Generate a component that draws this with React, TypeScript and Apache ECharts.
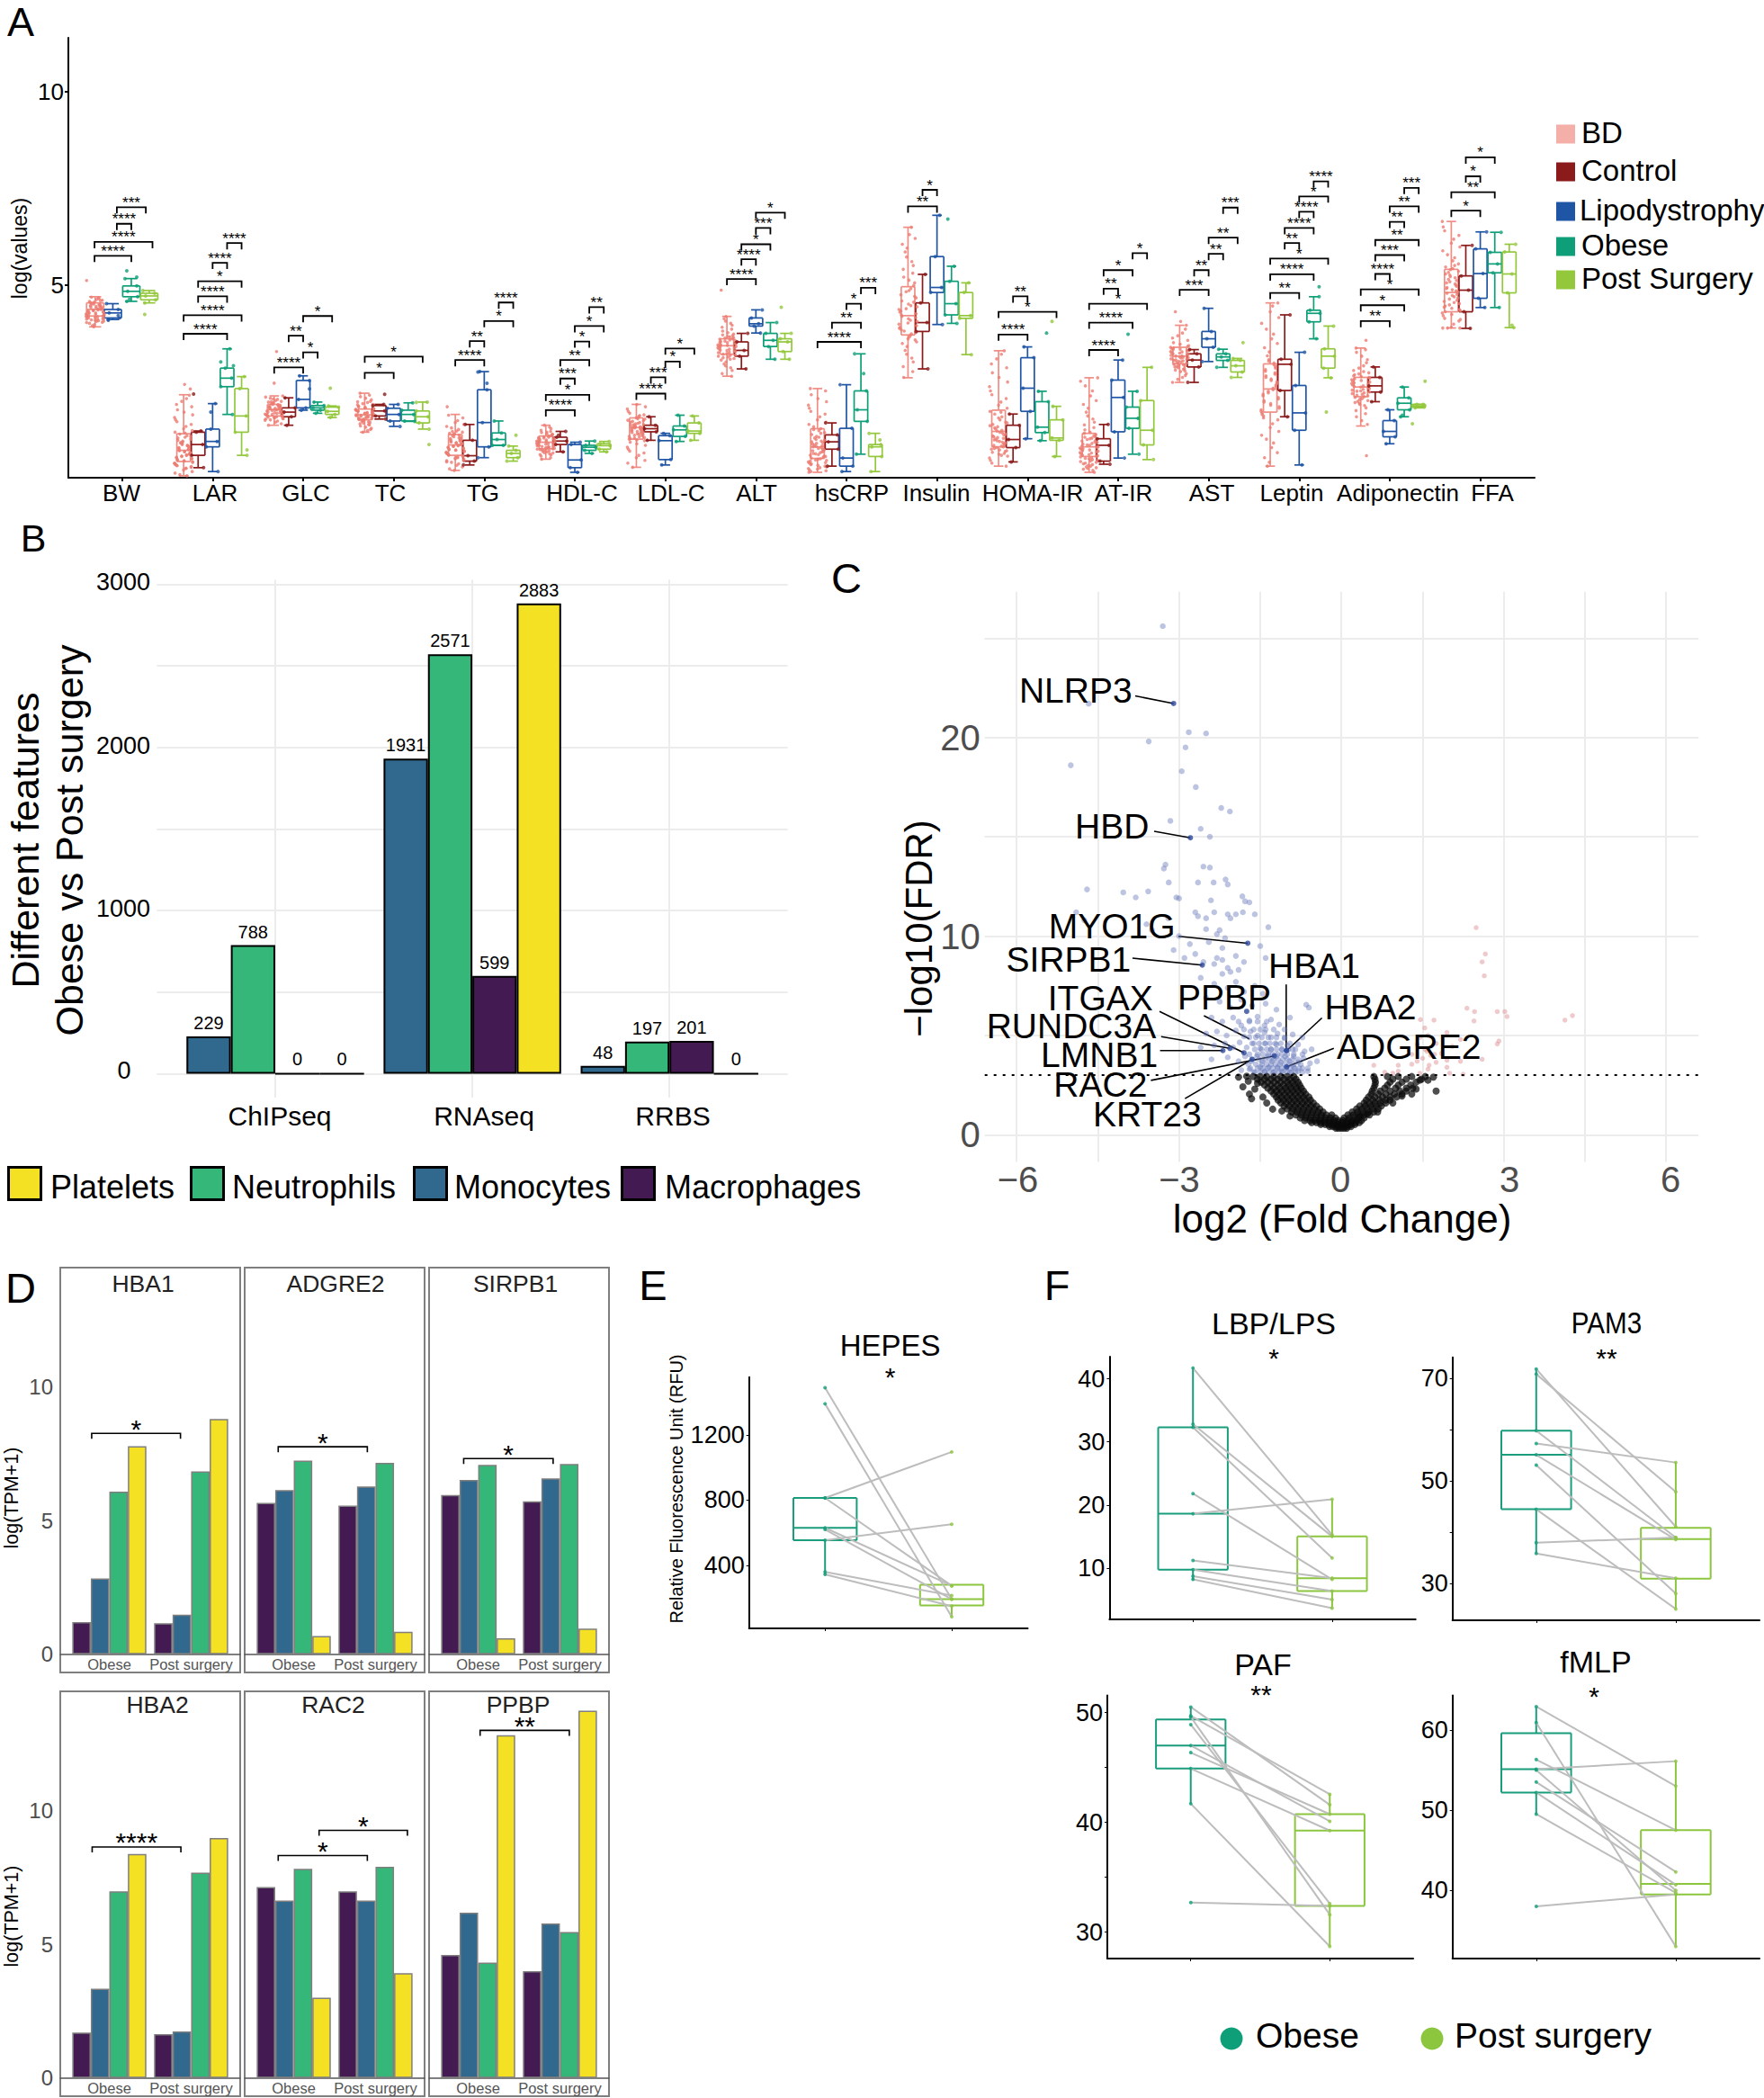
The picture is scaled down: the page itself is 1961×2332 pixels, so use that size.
import React, { useEffect, useRef } from "react";
import * as echarts from "echarts";

const FONT = '"Liberation Sans", Arial, sans-serif';

// ---------- Panel A ----------
const measures = ["BW","LAR","GLC","TC","TG","HDL-C","LDL-C","ALT","hsCRP","Insulin","HOMA-IR","AT-IR","AST","Leptin","Adiponectin","FFA"];
const measureLabelX = [135,239,340,434,537,647,746,841,947,1041,1148,1249,1347,1436,1554,1659];
const groupNames = ["BD","Control","Lipodystrophy","Obese","Post Surgery"];
const groupColors = ["#F08D84","#8B1A1A","#1F55A5","#0E9F78","#93C83C"];
// [min, q1, median, q3, max] per measure
const boxBD = [[3.91,4.19,4.36,4.53,4.69],[.05,.42,.71,1.14,2.15],[1.36,1.6,1.77,1.9,2.12],[1.18,1.5,1.63,1.78,2.19],[.19,.58,.85,1.12,1.64],[.48,.75,.92,1.08,1.36],[.27,1,1.3,1.55,1.9],[2.63,3.2,3.42,3.6,4.18],[.14,.5,.8,1.27,2.31],[2.59,3.7,4.2,4.95,6.49],[.3,.8,1.2,1.75,3.29],[.14,.55,.8,1.15,2.59],[2.47,2.95,3.15,3.38,3.95],[.3,1.7,2.3,2.95,4.53],[1.34,2.1,2.35,2.6,3.36],[3.88,4.3,4.8,5.4,6.64]];
const boxControl = [null,[.26,.58,.86,1.18,1.21],[1.36,1.58,1.7,1.81,2.07],[1.52,1.6,1.73,1.87,1.9],[.33,.43,.57,.97,1.38],[.67,.86,.95,1.05,1.2],[.97,1.19,1.27,1.36,1.58],[2.82,3.15,3.3,3.52,3.74],[.3,.74,.93,1.11,1.42],[2.82,3.79,4.02,4.53,5.27],[.41,.78,.99,1.36,1.65],[.35,.43,.84,1.01,1.38],[2.47,2.87,3.05,3.21,3.32],[1.58,2.26,2.94,3.07,4.22],[1.97,2.22,2.38,2.6,2.87],[3.87,4.3,4.86,5.23,6.02]];
const boxLipo = [[4.1,4.14,4.27,4.36,4.51],[.16,.8,.94,1.26,1.92],[1.75,1.81,2.03,2.52,2.64],[1.33,1.47,1.64,1.8,1.9],[.52,.8,1.43,2.28,2.75],[.14,.26,.46,.86,.92],[.33,.47,.96,1.09,1.15],[3.75,3.93,3.99,4.14,4.35],[.16,.3,.51,1.28,2.41],[3.97,4.8,4.93,5.73,6.8],[1.01,1.72,2.32,3.11,3.39],[.51,1.19,2.08,2.53,3.05],[3.01,3.38,3.6,3.79,4.39],[.33,1.23,1.68,2.39,3.25],[.88,1.06,1.2,1.48,1.76],[4.41,4.65,5.29,5.93,6.37]];
const boxObese = [[4.57,4.69,4.83,4.97,5.16],[1.64,2.36,2.58,2.84,3.34],[1.67,1.75,1.81,1.87,1.96],[1.46,1.47,1.64,1.75,1.94],[.84,.84,.99,1.16,1.47],[.63,.71,.79,.84,.95],[.94,1.07,1.24,1.34,1.62],[3.07,3.4,3.56,3.74,4.02],[.61,1.46,1.76,2.25,3.21],[4,4.22,4.51,5.09,5.48],[.96,1.17,1.31,1.97,2.24],[.61,1.28,1.54,1.83,2.24],[2.86,3.04,3.13,3.21,3.33],[3.6,4.04,4.26,4.34,4.69],[1.58,1.76,1.93,2.07,2.35],[4.41,5.31,5.54,5.84,6.36]];
const boxPost = [[4.53,4.61,4.71,4.78,4.85],[.58,1.18,1.6,2.31,2.62],[1.56,1.64,1.72,1.83,1.86],[1.26,1.42,1.58,1.73,1.96],[.43,.52,.63,.71,.82],[.67,.74,.83,.88,.94],[.97,1.15,1.21,1.42,1.6],[3.07,3.27,3.52,3.6,3.74],[.16,.55,.8,.86,1.15],[3.19,4.13,4.2,4.8,5.05],[.55,.97,1.03,1.5,1.85],[.47,.85,1.23,2,2.86],[2.6,2.74,2.9,3.04,3.09],[2.59,2.84,3.15,3.34,3.93],[1.81,1.83,1.86,1.9,1.9],[3.89,4.79,5.28,5.85,6.05]];
const bdBW = [5.11,4.68,4.66,4.62,4.6,4.57,4.55,4.52,4.5,4.48,4.46,4.45,4.43,4.41,4.4,4.38,4.36,4.35,4.33,4.31,4.3,4.28,4.27,4.25,4.24,4.22,4.2,4.19,4.17,4.15,4.13,4.11,4.09,4.07,4.05,4.03,4,3.97,3.94,3.91,4.64,4.59,4.54,4.49,4.47,4.44,4.42,4.39,4.37,4.34,4.32,4.29,4.26,4.23,4.21,4.18,4.16,4.14,4.12,4.1,4.08,4.06,4.02];
const bdLAR = [2.42,2.3,2.14,2.05,1.98,1.9,1.84,1.76,1.7,1.63,1.56,1.5,1.45,1.38,1.33,1.27,1.22,1.18,1.13,1.09,1.05,1,.97,.93,.9,.86,.83,.8,.76,.73,.7,.67,.64,.61,.58,.55,.52,.49,.46,.43,.4,.37,.34,.31,.27,.24,.2,.16,.12,.08,.05,1.16,1.07,1.03,.95,.91,.88,.84,.81,.78,.74,.71,.68,.65,.62,.59,.56,.53,.5,.47,.44,.41,.38,.35,.32,.29,.25];
const bdGLC = [3.27,2.45,2.12,2.09,2.06,2.03,2,1.98,1.96,1.94,1.92,1.9,1.88,1.87,1.85,1.84,1.82,1.8,1.79,1.77,1.76,1.74,1.73,1.71,1.7,1.68,1.66,1.65,1.63,1.61,1.6,1.58,1.56,1.54,1.52,1.5,1.47,1.44,1.4,1.36,2.04,1.97,1.93,1.89,1.86,1.83,1.81,1.78,1.75,1.72,1.69,1.67,1.64,1.62,1.59,1.57,1.55,1.53,1.49];
const bdTC = [2.19,2.14,2.1,2.06,2.02,1.98,1.95,1.92,1.89,1.86,1.84,1.81,1.79,1.77,1.75,1.73,1.71,1.69,1.67,1.65,1.63,1.62,1.6,1.58,1.56,1.54,1.52,1.5,1.48,1.45,1.43,1.4,1.37,1.34,1.31,1.28,1.25,1.22,1.18,1.97,1.9,1.85,1.82,1.78,1.76,1.74,1.72,1.7,1.68,1.66,1.64,1.61,1.59,1.57,1.55,1.53,1.51,1.49,1.46,1.42,1.38];
const bdTG = [1.84,1.62,1.55,1.48,1.43,1.38,1.33,1.29,1.25,1.21,1.18,1.15,1.12,1.09,1.06,1.03,1,.98,.95,.93,.9,.88,.86,.83,.81,.78,.76,.73,.71,.68,.65,.63,.6,.57,.54,.51,.48,.44,.4,.36,.32,.28,.23,.19,1.2,1.14,1.1,1.05,1.01,.97,.94,.91,.89,.87,.84,.82,.79,.77,.74,.72,.69,.66,.62,.58,.55,.52,.49,.45,.41];
const bdHDL = [1.36,1.31,1.27,1.23,1.2,1.17,1.14,1.12,1.1,1.08,1.06,1.04,1.02,1,.98,.96,.95,.93,.92,.9,.88,.87,.85,.83,.81,.79,.77,.75,.73,.71,.68,.65,.62,.59,.56,.52,.48,1.18,1.13,1.09,1.05,1.03,1.01,.99,.97,.94,.91,.89,.86,.84,.82,.8,.78,.76,.74,.72,.7,.67,.64,.6];
const bdLDL = [1.9,1.84,1.78,1.72,1.67,1.63,1.59,1.55,1.52,1.49,1.46,1.43,1.41,1.38,1.36,1.33,1.31,1.29,1.27,1.24,1.22,1.19,1.17,1.14,1.12,1.09,1.06,1.03,1,.96,.92,.88,.84,.79,.74,.69,.64,.58,.52,.45,.38,.27,1.61,1.53,1.48,1.44,1.4,1.37,1.35,1.32,1.3,1.28,1.25,1.23,1.2,1.18,1.15,1.13,1.1,1.07,1.04,1.01,.98];
const bdALT = [4.86,4.18,4.12,4.06,4,3.95,3.9,3.85,3.8,3.76,3.72,3.68,3.65,3.62,3.59,3.56,3.53,3.5,3.47,3.44,3.42,3.39,3.36,3.33,3.3,3.27,3.24,3.2,3.17,3.13,3.09,3.05,3,2.95,2.9,2.85,2.78,2.7,2.63,3.7,3.66,3.63,3.6,3.57,3.54,3.51,3.48,3.45,3.43,3.4,3.37,3.34,3.31,3.28,3.25,3.22,3.18,3.15,3.11,3.07];
const bdCRP = [2.31,2.25,2.15,2.05,1.97,1.88,1.8,1.72,1.65,1.58,1.5,1.44,1.38,1.32,1.27,1.22,1.17,1.12,1.07,1.03,.99,.95,.91,.87,.83,.8,.76,.72,.69,.65,.62,.58,.55,.51,.48,.45,.41,.38,.34,.3,.26,.22,.18,.14,1.25,1.15,1.05,.97,.93,.89,.85,.81,.78,.74,.7,.67,.63,.6,.56,.53,.49,.46,.43,.39,.36,.32,.28,.24,.2,.16];
const bdInsulin = [6.49,6.3,6.2,6.05,5.95,5.85,5.72,5.6,5.5,5.4,5.3,5.2,5.12,5.05,4.98,4.9,4.82,4.74,4.66,4.58,4.5,4.43,4.36,4.29,4.22,4.15,4.08,4.01,3.94,3.87,3.8,3.73,3.65,3.57,3.48,3.4,3.3,3.2,3.1,3,2.88,2.75,2.6,4.85,4.7,4.55,4.46,4.38,4.32,4.25,4.18,4.12,4.05,3.98,3.9,3.83,3.76,3.69,3.6,3.52];
const bdHOMA = [3.29,3.2,3.08,2.95,2.85,2.72,2.6,2.48,2.36,2.25,2.15,2.05,1.96,1.88,1.8,1.72,1.65,1.58,1.5,1.44,1.38,1.32,1.26,1.21,1.16,1.11,1.06,1.02,.98,.94,.9,.86,.82,.78,.74,.7,.66,.61,.56,.51,.45,.38,.3,1.7,1.55,1.42,1.35,1.29,1.23,1.18,1.13,1.08,1.04,1,.96,.92,.88,.84,.8,.76,.72,.68,.63,.58];
const bdATIR = [2.59,2.5,2.38,2.25,2.12,2,1.9,1.8,1.7,1.6,1.52,1.44,1.37,1.3,1.24,1.18,1.12,1.07,1.03,.99,.95,.91,.87,.84,.8,.77,.74,.7,.67,.64,.6,.57,.54,.5,.47,.44,.4,.36,.32,.28,.24,.19,.14,1.15,1.09,1.05,1.01,.97,.93,.89,.85,.82,.79,.75,.72,.69,.65,.62,.58,.55,.52,.49,.45,.42,.38,.34,.3,.26,.22];
const bdAST = [4.3,4.05,3.95,3.85,3.75,3.68,3.62,3.56,3.5,3.46,3.42,3.38,3.35,3.32,3.29,3.26,3.23,3.2,3.17,3.15,3.12,3.1,3.07,3.04,3.02,2.99,2.96,2.93,2.9,2.87,2.83,2.79,2.75,2.7,2.65,2.6,2.55,2.47,3.4,3.36,3.33,3.3,3.27,3.24,3.21,3.18,3.16,3.13,3.11,3.08,3.05,3.03,3,2.97,2.94,2.91,2.88,2.85,2.81,2.77];
const bdLeptin = [4.53,4.45,4.3,4.15,4,3.85,3.72,3.6,3.48,3.37,3.26,3.16,3.06,2.97,2.88,2.8,2.72,2.64,2.56,2.48,2.4,2.32,2.24,2.16,2.08,2,1.92,1.84,1.76,1.68,1.6,1.5,1.4,1.3,1.2,1.1,1,.9,.78,.65,.52,.4,.3,3.02,2.93,2.84,2.76,2.68,2.6,2.52,2.44,2.36,2.28,2.2,2.12,2.04,1.96,1.88,1.8,1.72,1.64,1.55];
const bdAdipo = [3.56,3.36,3.32,3.25,3.15,3.06,2.98,2.9,2.84,2.78,2.72,2.67,2.62,2.58,2.54,2.5,2.46,2.42,2.38,2.35,2.31,2.27,2.24,2.2,2.16,2.12,2.08,2.03,1.98,1.93,1.87,1.81,1.74,1.66,1.58,1.48,1.38,.57,2.75,2.69,2.64,2.6,2.56,2.52,2.48,2.44,2.4,2.37,2.33,2.29,2.25,2.22,2.18,2.14,2.1,2.05,2,1.95,1.9];
const bdFFA = [6.64,6.5,6.4,6.28,6.18,6.08,5.98,5.88,5.78,5.7,5.62,5.54,5.46,5.39,5.32,5.25,5.18,5.11,5.05,4.99,4.93,4.87,4.81,4.75,4.69,4.63,4.57,4.51,4.45,4.39,4.33,4.27,4.2,4.13,4.06,3.98,3.9,3.88,3.88,3.88,5.5,5.42,5.35,5.28,5.21,5.14,5.08,5.02,4.96,4.9,4.84,4.78,4.72,4.66,4.6,4.54,4.48,4.42,4.36,4.3,4.23,4.1];
const bdClouds = [bdBW,bdLAR,bdGLC,bdTC,bdTG,bdHDL,bdLDL,bdALT,bdCRP,bdInsulin,bdHOMA,bdATIR,bdAST,bdLeptin,bdAdipo,bdFFA];
const jitterBD = [-.9,.4,-.2,.8,-.6,.1,.95,-.4,.55,-.75,.25,-.1,.7,-.95,.35,-.5,.85,0,-.3,.6,-.85,.15,.5,-.65,.9,-.15,.3,-.7,.75,-.45,.05];
const jitterDots = [-.05,.06,-.02,.07,-.07,.03,-.04,.05];
// extra strip points: [measure index, group index, value]
const extraDots = [[0,2,4.08],[0,2,4.2],[0,3,5.36],[0,3,5.2],[0,4,4.23],[0,3,4.62],[1,1,2.17],[1,2,1.7],[1,3,2.9],[1,3,3.0],[1,4,.72],[2,2,2.3],[2,4,2.32],[3,1,2.16],[3,4,.86],[3,4,1.95],[4,2,2.74],[4,4,1.1],[4,2,2.45],[5,1,1.1],[7,4,4.42],[8,4,.98],[8,3,2.7],[9,3,6.7],[10,4,4.05],[10,3,3.75],[11,3,3.72],[12,4,3.5],[13,4,1.7],[13,3,4.95],[14,4,2.5],[14,3,1.62],[14,4,1.4],[15,4,3.95]];
// brackets: [measure (1-based), slot from, slot to, value, stars]
const bracketsA = [[1,-1.9,.64,5.75,"****"],[1,-1.9,2.1,6.11,"****"],[1,-.36,.64,6.58,"****"],[1,-.36,1.64,7.01,"***"],
[2,-2,1,3.73,"****"],[2,-2,2,4.21,"****"],[2,-1,1,4.7,"****"],[2,-1,2,5.09,"*"],[2,0,1,5.57,"****"],[2,1,2,6.08,"****"],
[3,-2,0,2.86,"****"],[3,0,1,3.25,"*"],[3,-1,0,3.68,"**"],[3,0,2,4.19,"*"],
[4,-2,0,2.72,"*"],[4,-2,2,3.14,"*"],
[5,-2,0,3.05,"****"],[5,-1,0,3.54,"**"],[5,0,2,4.06,"*"],[5,1,2,4.54,"****"],
[6,-2,0,1.75,"****"],[6,-2,1,2.15,"*"],[6,-1,0,2.57,"***"],[6,-1,1,3.05,"**"],[6,0,1,3.53,"*"],[6,0,2,3.93,"*"],[6,1,2,4.42,"**"],
[7,-2,0,2.18,"****"],[7,-1,0,2.6,"***"],[7,0,1,3.01,"*"],[7,0,2,3.35,"*"],
[8,-2,0,5.15,"****"],[8,-1,0,5.66,"****"],[8,-1,1,6.05,"*"],[8,0,1,6.47,"***"],[8,0,2,6.87,"*"],
[9,-2,1,3.52,"****"],[9,-1,1,4.02,"**"],[9,0,1,4.51,"*"],[9,1,2,4.92,"***"],
[10,-2,0,7.03,"**"],[10,-1,0,7.46,"*"],
[11,-2,0,3.71,"****"],[11,-2,2,4.3,"*"],[11,-1,0,4.7,"**"],
[12,-2,0,3.31,"****"],[12,-2,1,4.02,"****"],[12,-2,2,4.51,"*"],[12,-1,0,4.9,"**"],[12,-1,1,5.38,"*"],[12,1,2,5.82,"*"],
[13,-2,0,4.87,"***"],[13,-1,0,5.38,"**"],[13,0,1,5.8,"**"],[13,0,2,6.22,"**"],[13,1,2,7,"***"],
[14,-2,0,4.79,"**"],[14,-2,1,5.27,"****"],[14,-2,2,5.68,"*"],[14,-1,0,6.08,"**"],[14,-1,1,6.47,"****"],[14,0,1,6.89,"****"],[14,0,2,7.29,"*"],[14,1,2,7.68,"****"],
[15,-2,0,4.06,"**"],[15,-2,1,4.47,"*"],[15,-2,2,4.88,"*"],[15,-1,0,5.28,"****"],[15,-1,1,5.77,"***"],[15,-1,2,6.16,"**"],[15,0,1,6.63,"**"],[15,0,2,7.03,"**"],[15,1,2,7.51,"***"],
[16,-2,0,6.92,"*"],[16,-2,1,7.4,"**"],[16,-1,0,7.81,"*"],[16,-1,1,8.3,"*"]];

// ---------- Panel B ----------
const assays = ["ChIPseq","RNAseq","RRBS"];
const assayLabelX = [311,538,748];
const cellNames = ["Monocytes","Neutrophils","Macrophages","Platelets"];
const cellColors = ["#31688E","#35B779","#431A52","#F5E124"];
const monocyteCounts = [229,1931,48];
const neutrophilCounts = [788,2571,197];
const macrophageCounts = [0,599,201];
const plateletCounts = [0,2883,0];

// ---------- Panel C ----------
const volcTickLabels = ["−6","−3","0","3","6"];
const volcTickLabelX = [1131.5,1311,1490,1678,1857];
const volcBlack = [[-1.66,1.82],[-1.82,2.42],[-1.27,1.29],[-1.7,2.05],[-1.75,2.95],[-1.9,2.9],[-1.6,2.3],[-1.45,1.9],[-1.38,1.6],[-1.55,2.6],[-1.72,2.7],[1.75,2.2],[1.6,2.75],[1.38,2.3],[1.45,2.75],[1.7,2.9],[.95,1.6],[1.12,1.95],[1.3,2.05],[.35,.95],[.48,1.05],[-.95,.95],[-1.1,1.2]];
// rows of [value, log2 fold changes...] read across the dense black band
const blackRows = [[.33,-.1,-.05,0,.05,.1],[.42,-.22,-.16,-.1,-.05,0,.06,.12,.18],[.52,-.38,-.3,-.23,-.16,-.09,-.03,.04,.11,.18,.25],[.62,-.55,-.46,-.38,-.3,-.22,-.14,-.06,.02,.1,.18,.26,.33],[.72,-.68,-.58,-.49,-.4,-.31,-.22,-.14,-.06,.03,.12,.2,.28,.37],[.85,-.76,-.66,-.57,-.47,-.38,-.29,-.2,-.11,.05,.14,.24,.32,.42],[1,-.84,-.74,-.65,-.55,-.46,-.37,-.28,-.18,.12,.22,.32,.42,.52],[1.15,-.92,-.82,-.72,-.62,-.53,-.43,-.34,.2,.3,.4,.5,.6,.67],[1.3,-1,-.9,-.8,-.7,-.6,-.5,-.4,.28,.38,.48,.58,.68],[1.45,-1.06,-.96,-.86,-.76,-.66,-.56,-.46,.34,.44,.54,.64,.74],[1.6,-1.12,-1.02,-.92,-.82,-.72,-.62,-.52,.42,.52,.62,.72,.82],[1.75,-1.17,-1.07,-.97,-.87,-.77,-.67,-.57,.46,.58,.7,.82,.9],[1.9,-1.2,-1.1,-1,-.9,-.8,-.7,-.6,.5,.62,.76,.9,1.02],[2.05,-1.25,-1.15,-1.05,-.95,-.85,-.75,-.66,.55,.68,.82,.98,1.12],[2.2,-1.3,-1.2,-1.1,-1,-.9,-.8,-.7,.57,.72,.9,1.08,1.2],[2.35,-1.36,-1.25,-1.14,-1.03,-.93,-.83,-.74,.6,.8,1,1.2,1.32],[2.5,-1.42,-1.3,-1.18,-1.07,-.97,-.87,-.77,.62,.85,1.05,1.28],[2.65,-1.48,-1.36,-1.24,-1.12,-1,-.9,-.8,.63,.9,1.12,1.38],[2.8,-1.55,-1.42,-1.3,-1.18,-1.06,-.95,-.84,.62,.95,1.2,1.48],[2.93,-1.63,-1.5,-1.38,-1.25,-1.12,-1,-.88,.6,.85,1.05,1.3,1.55]];
const volcBlue = [[-3.3,25.6],[-4.67,21.7],[-2.82,20.26],[-2.5,20.2],[-3.56,19.8],[-2.88,19.5],[-5,18.6],[-2.95,18.3],[-2.69,17.5],[-2.22,16.45],[-2.06,16.27],[-3.16,15.8],[-2.6,15.4],[-2.43,15],[-3.25,13.6],[-3.28,13.4],[-2.55,13.5],[-2.43,13.45],[-3.19,12.7],[-2.65,12.7],[-2.36,12.7],[-2.14,12.85],[-2.1,12.6],[-4.7,12.35],[-4.03,12.2],[-3.8,11.95],[-3.57,12.25],[-3.05,11.95],[-3,11.9],[-2.41,11.8],[-1.83,12],[-1.78,11.75],[-1.7,11.7],
[-4.9,11.2],[-4.75,10.8],[-3.6,10.6],[-3.5,10.3],[-3.2,10.9],[-2.7,11.2],[-2.65,11],[-2.5,10.9],[-2.35,11.2],[-2.1,11.1],[-2.05,10.9],[-1.95,11.1],[-1.82,11.2],[-1.6,11.1],[-1.35,10.45],[-1.5,9.5],[-1.4,8.9],[-2.5,10.35],[-2.3,10.1],[-2.25,10.3],[-2.15,9.9],[-2.45,9.7],[-2.2,9.4],[-2.3,8.9],[-2.2,8.8],[-2.55,8.7],[-2.35,8.6],[-2.1,8.4],[-2.2,8.1],[-2.05,8.2],[-1.9,8.3],[-1.8,8.7],[-1.95,9],[-3,10],[-2.8,9.6],[-3.1,9.3],[-2.9,8.9],[-2.7,9.1],
[-2.6,7.9],[-2.35,7.6],[-2.1,7.4],[-1.95,7.7],[-1.8,7.2],[-1.6,7.5],[-1.45,7.1],[-2.5,6.9],[-2.25,6.7],[-2.05,6.4],[-1.85,6.8],[-1.65,6.5],[-1.4,6.6],[-1.2,6.3],[-.65,6.55],[-.6,6.4],[-2.4,5.9],[-2.2,5.7],[-2,5.9],[-1.85,5.5],[-1.7,5.75],[-1.55,5.95],[-1.42,5.5],[-1.3,5.8],[-1.15,5.55],[-.95,5.9],[-2.5,5.1],[-2.3,5.2],[-2.12,5],[-1.95,5.25],[-1.8,4.95],[-1.68,5.2],[-1.55,5],[-1.42,5.15],[-1.3,4.9],[-1.18,5.1],[-1.05,4.85],[-.9,5.05],[-.72,4.9],[-2.6,4.4],[-2.35,4.5],[-2.15,4.6],[-2,4.4],[-1.88,4.65],[-1.75,4.4],[-1.62,4.6],[-1.5,4.35],[-1.4,4.6],[-1.3,4.3],[-1.2,4.55],[-1.1,4.3],[-1,4.5],[-.9,4.3],[-.8,4.55],[-.68,4.2],[-.55,4.3],[-2.4,3.8],[-2.1,3.9],[-1.9,3.7],[-1.78,3.95],[-1.66,3.7],[-1.56,3.95],[-1.46,3.7],[-1.36,3.95],[-1.28,3.7],[-1.2,3.95],[-1.12,3.65],[-1.04,3.95],[-.96,3.7],[-.88,3.95],[-.8,3.65],[-.7,3.85],[-.58,3.6],[-.45,3.7],[-1.85,3.25],[-1.7,3.3],[-1.6,3.15],[-1.5,3.4],[-1.42,3.2],[-1.34,3.4],[-1.26,3.15],[-1.18,3.4],[-1.1,3.2],[-1.02,3.4],[-.95,3.15],[-.88,3.4],[-.8,3.2],[-.72,3.35],[-.62,3.2]];
const blueRows = [[3.15,-1.62,-1.5,-1.42,-1.33,-1.24,-1.16,-1.08,-1,-.92,-.85,-.72],[3.35,-1.68,-1.55,-1.45,-1.36,-1.27,-1.18,-1.1,-1.02,-.94,-.86,-.78,-.62],[3.55,-1.72,-1.58,-1.47,-1.38,-1.3,-1.22,-1.14,-1.05,-.96,-.88,-.75],[3.8,-1.65,-1.52,-1.42,-1.33,-1.25,-1.17,-1.08,-1,-.9,-.8],[4.05,-1.7,-1.55,-1.45,-1.35,-1.27,-1.18,-1.1,-1,-.88,-.72],[4.3,-1.6,-1.48,-1.38,-1.3,-1.2,-1.1,-.98,-.85],[4.6,-1.65,-1.52,-1.42,-1.32,-1.22,-1.12,-.95],[4.9,-1.7,-1.58,-1.47,-1.35,-1.2,-1.05],[5.3,-1.8,-1.62,-1.5,-1.4,-1.25,-1.05],[5.7,-1.9,-1.7,-1.55,-1.38]];
const volcRed = [[2.49,10.43],[2.66,9.1],[2.6,8.7],[2.64,8],[2.32,6.37],[2.46,6.2],[2.45,5.73],[2.88,6.2],[3.02,6.2],[3.06,5.95],[4.13,5.77],[4.27,6],[2.88,4.57],[2.91,4.72],[1.46,5.8],[1.71,5.77],[1.54,5.38],[1.95,5.15],[1.6,5],[1.45,4.9],[2.2,4.8],[1.4,4.55],[1.75,4.6],[2.05,4.45],[1.55,4.3],[1.3,4.05],[1.65,4],[1.85,4.1],[1.5,3.85],[1.75,3.65],[1.95,3.75],[2.2,3.7],[2.6,3.8],[1.05,3.5],[1.3,3.55],[.6,3.5],[.95,3.1],[1.05,3.2],[1.6,3.3],[1.95,3.4],[2,3.1],[1.45,3.1],[.8,3.15],[2.25,3.05],[1.58,4.2],[1.72,4.05],[1.4,3.7],[1.62,3.5]];
const volcGenes = [
  { name: "NLRP3", lx: 1195.8, ly: 767.8, line: [-3.81,22.09,-3.1,21.71], pt: [-3.1,21.71] },
  { name: "HBD", lx: 1236.2, ly: 918.1, line: [-3.46,15.28,-2.79,14.95], pt: [-2.79,14.95] },
  { name: "MYO1G", lx: 1236.2, ly: 1029.6, line: [-3.01,9.99,-1.73,9.64], pt: [-1.73,9.64] },
  { name: "SIRPB1", lx: 1187.8, ly: 1066.9, line: [-3.86,8.89,-2.57,8.54], pt: [-2.57,8.54] },
  { name: "HBA1", lx: 1460.9, ly: 1073.2, line: [-1.02,7.57,-1.02,4.24], pt: [-1.02,4.24] },
  { name: "PPBP", lx: 1361, ly: 1108.1, line: [-2.54,5.99,-1.7,4.83], pt: [-1.75,6.21] },
  { name: "ITGAX", lx: 1223.3, ly: 1109.6, line: [-3.36,6.21,-1.8,4.13], pt: [-1.8,4.13] },
  { name: "HBA2", lx: 1523.4, ly: 1119.3, line: [-.36,5.88,-1.01,4.24], pt: [-1.01,4.24] },
  { name: "RUNDC3A", lx: 1190.9, ly: 1140.1, line: [-3.33,4.94,-2.06,4.35], pt: [-2.06,4.35] },
  { name: "LMNB1", lx: 1222.1, ly: 1172.6, line: [-3.35,4.24,-2.19,4.24], pt: [-2.19,4.24] },
  { name: "ADGRE2", lx: 1566.2, ly: 1163.9, line: [-.14,4.35,-1.01,3.42], pt: [-1.01,3.42] },
  { name: "RAC2", lx: 1223.3, ly: 1205.6, line: [-3.52,2.74,-1.24,3.97], pt: [-1.24,3.97] },
  { name: "KRT23", lx: 1275.4, ly: 1238, line: [-2.89,1.82,-1.65,3.8], pt: [-1.65,3.8] },
];

// ---------- Panel D : [macrophages, monocytes, neutrophils, platelets] ----------
const hba1Obese = [1.2,2.84,6.08,7.78], hba1Post = [1.16,1.48,6.84,8.8];
const adgre2Obese = [5.66,6.14,7.24,.68], adgre2Post = [5.56,6.28,7.16,.84];
const sirpb1Obese = [5.96,6.52,7.08,.6], sirpb1Post = [5.72,6.58,7.12,.96];
const hba2Obese = [1.7,3.34,6.98,8.38], hba2Post = [1.64,1.74,7.68,8.98];
const rac2Obese = [7.14,6.64,7.82,3], rac2Post = [6.98,6.64,7.9,3.92];
const ppbpObese = [4.6,6.18,4.32,12.82], ppbpPost = [4,5.78,5.46,13.74];
const facetOrderColors = ["#431A52","#31688E","#35B779","#F5E124"];
const facets = [
  { name: "HBA1", obese: hba1Obese, post: hba1Post, tx: 159, ty: 1427, left: 67, top: 1409, br: [[.784,1.87,8.26,"*"]] },
  { name: "ADGRE2", obese: adgre2Obese, post: adgre2Post, tx: 373, ty: 1427, left: 272, top: 1409, br: [[.81,1.9,7.76,"*"]] },
  { name: "SIRPB1", obese: sirpb1Obese, post: sirpb1Post, tx: 573, ty: 1427, left: 477, top: 1409, br: [[.823,1.917,7.32,"*"]] },
  { name: "HBA2", obese: hba2Obese, post: hba2Post, tx: 175, ty: 1895, left: 67, top: 1880, br: [[.79,1.875,8.64,"****"]] },
  { name: "RAC2", obese: rac2Obese, post: rac2Post, tx: 370.5, ty: 1895, left: 272, top: 1880, br: [[.81,1.9,8.32,"*"],[1.31,2.39,9.26,"*"]] },
  { name: "PPBP", obese: ppbpObese, post: ppbpPost, tx: 576, ty: 1895, left: 477, top: 1880, br: [[1.024,2.115,13,"**"]] },
];

// ---------- Panels E, F ----------
const hepesObese = [1489,1390,813,554,813,630,620,360,345];
const hepesPost = [193,85,1095,652,275,275,193,215,150];
const hepesBoxO = [341,554,630,813,813], hepesBoxP = [85,154,193,282,282];
const lbpObese = [41.7,32.8,32.3,21.8,18.6,11.2,9.75,8.7,8.2];
const lbpPost = [15.25,15,11.6,8.2,20.9,8.4,6.35,5,3.64];
const lbpBoxO = [8.05,9.75,18.6,32.3,41.7], lbpBoxP = [3.64,6.35,8.4,15,20.9];
const pamObese = [71.8,70.8,59.8,57.3,55.1,53.1,44.5,38,35.9];
const pamPost = [41.1,47.9,39,53.6,38.6,28.1,25.1,39,31.1];
const pamBoxO = [35.9,44.5,55.1,59.8,71.8], pamBoxP = [25.1,31,38.7,40.9,53.6];
const pafObese = [50.5,49.7,49.6,48.9,47,46.35,44.9,41.7,32.7];
const pafPost = [41.6,42.55,31.6,32.6,40.1,40.75,39.25,28.7,32.4];
const pafBoxO = [41.7,44.9,47,49.37,50.5], pafBoxP = [28.7,32.4,39.25,40.75,42.55];
const fmlpObese = [62.9,60.9,56.3,55.1,53.5,52.2,49.5,38,55];
const fmlpPost = [53,33,47.5,56.1,42.3,40.7,39.7,39.5,40];
const fmlpBoxO = [49.5,52.2,55.1,59.6,62.9], fmlpBoxP = [33,39.5,40.8,47.5,56.1];
const pairPanels = [
  { left: 832.7, top: 1530.8, w: 309.8, h: 279.2, ymin: 14, ymax: 1553, ticks: [400,800,1200], labels: [400,800,1200], o: hepesObese, p: hepesPost, bo: hepesBoxO, bp: hepesBoxP },
  { left: 1233.4, top: 1508, w: 340.3, h: 292, ymin: 1.86, ymax: 43.5, ticks: [10,20,30,40], labels: [10,20,30,40], o: lbpObese, p: lbpPost, bo: lbpBoxO, bp: lbpBoxP },
  { left: 1614.7, top: 1508.8, w: 341.3, h: 292.2, ymin: 22.9, ymax: 74.05, ticks: [30,40,50,60,70], labels: [30,50,70], o: pamObese, p: pamPost, bo: pamBoxO, bp: pamBoxP },
  { left: 1231, top: 1884.5, w: 340, h: 292.5, ymin: 27.6, ymax: 51.56, ticks: [30,35,40,45,50], labels: [30,40,50], o: pafObese, p: pafPost, bo: pafBoxO, bp: pafBoxP },
  { left: 1614.7, top: 1884.5, w: 341.3, h: 292.5, ymin: 31.5, ymax: 64.3, ticks: [40,50,60], labels: [40,50,60], o: fmlpObese, p: fmlpPost, bo: fmlpBoxO, bp: fmlpBoxP },
];
const OBESE = "#1A9D7D", POST = "#8CC63F";

// ---------- helpers ----------
const T = (text: string, x: number, y: number, size: number, o: any = {}) => ({
  type: "text", x, y, z: 100, rotation: o.rot || 0, scaleX: o.sx || 1, silent: true,
  style: { text, x: 0, y: 0, align: o.align || "center", verticalAlign: "middle", textAlign: o.align || "center", textVerticalAlign: "middle", fontSize: size, fontFamily: FONT, fill: o.fill || "#000" },
});
const R = (x, y, w, h, fill, stroke?, lw = 0) => ({ type: "rect", z: 100, silent: true, shape: { x, y, width: w, height: h }, style: { fill, stroke: stroke || "none", lineWidth: lw } });

const boxRender = (color: string, lw: number, capFrac: number) => (_p: any, api: any) => {
  const x = api.value(0), a = api.value(1), q1 = api.value(2), m = api.value(3), q3 = api.value(4), b = api.value(5), w = api.value(6) / 2;
  const seg = (x1, y1, x2, y2) => {
    const p = api.coord([x1, y1]), q = api.coord([x2, y2]);
    return { type: "line", shape: { x1: p[0], y1: p[1], x2: q[0], y2: q[1] }, style: { stroke: color, lineWidth: lw, fill: "none" } };
  };
  const c = w * capFrac;
  const kids: any[] = [seg(x - w, q1, x + w, q1), seg(x - w, q3, x + w, q3), seg(x - w, q1, x - w, q3), seg(x + w, q1, x + w, q3), seg(x - w, m, x + w, m), seg(x, q3, x, b), seg(x, q1, x, a)];
  if (capFrac > 0) kids.push(seg(x - c, a, x + c, a), seg(x - c, b, x + c, b));
  return { type: "group", children: kids };
};

const bracketRender = (rows: any[], drop: number, font: number, lw: number, dy: number) => (p: any, api: any) => {
  const r = rows[p.dataIndex];
  const a = api.coord([r[0], r[2]]), b = api.coord([r[1], r[2]]);
  return {
    type: "group",
    children: [
      { type: "polyline", shape: { points: [[a[0], a[1] + drop], [a[0], a[1]], [b[0], a[1]], [b[0], a[1] + drop]] }, style: { stroke: "#000", fill: "none", lineWidth: lw } },
      { type: "text", x: (a[0] + b[0]) / 2, y: a[1] - dy, style: { text: r[3], x: 0, y: 0, align: "center", verticalAlign: "middle", textAlign: "center", textVerticalAlign: "middle", fontSize: font, fontFamily: FONT, fill: "#000" } },
    ],
  };
};

function buildOption() {
  const grid: any[] = [], xAxis: any[] = [], yAxis: any[] = [], series: any[] = [], gfx: any[] = [];
  const blackLine = { lineStyle: { color: "#000", width: 2 }, onZero: false };
  const add = (g: any, x: any, y: any) => {
    const i = grid.length;
    grid.push({ containLabel: false, ...g });
    xAxis.push({ gridIndex: i, type: "value", splitLine: { show: false }, ...x });
    yAxis.push({ gridIndex: i, type: "value", splitLine: { show: false }, ...y });
    return i;
  };
  const plain = (v: number) => String(v);

  // ---- A
  const A = add({ left: 76, top: 42, width: 1630, height: 489 },
    { min: .407, max: 16.6, axisLine: blackLine, axisTick: { length: 4, customValues: measures.map((_, i) => i + 1), lineStyle: { color: "#000", width: 2 } }, axisLabel: { show: false } },
    { min: 0, max: 11.4, axisLine: blackLine, axisTick: { length: 4, customValues: [5, 10], lineStyle: { color: "#000", width: 2 } }, axisLabel: { customValues: [5, 10], fontSize: 26, fontFamily: FONT, color: "#000", margin: 5, formatter: plain } });
  const boxSets = [boxBD, boxControl, boxLipo, boxObese, boxPost];
  const bwOff = [-.297, null, -.102, .102, .3];
  const offs = (c: number, g: number) => (c === 0 ? bwOff[g] : (g - 2) * .16);
  boxSets.forEach((set, g) => {
    const rows: any[] = [], dots: any[] = [];
    set.forEach((b, c) => {
      if (!b) return;
      const x = c + 1 + offs(c, g);
      rows.push([x, ...b, c === 0 ? .19 : .15]);
      if (g > 0) b.forEach((v, k) => dots.push([x + jitterDots[(c + k * 3) % jitterDots.length], v]));
    });
    if (g === 0) bdClouds.forEach((ys, c) => ys.forEach((v, k) => dots.push([c + 1 + offs(c, 0) + jitterBD[(k * 7 + c * 5) % jitterBD.length] * .105, v])));
    extraDots.filter((d) => d[1] === g).forEach((d: any, k) => dots.push([d[0] + 1 + offs(d[0], g) + jitterDots[k % jitterDots.length], d[2]]));
    series.push({ type: "scatter", name: groupNames[g] + " points", xAxisIndex: A, yAxisIndex: A, symbolSize: g === 0 ? 3.6 : 4, itemStyle: { color: g === 0 ? "#EC7C72" : groupColors[g] }, data: dots, silent: true });
    series.push({ type: "custom", name: groupNames[g], xAxisIndex: A, yAxisIndex: A, renderItem: boxRender(groupColors[g], 1.7, .7), encode: { x: 0, y: [1, 2, 3, 4, 5] }, data: rows, silent: true });
  });
  const brA = bracketsA.map((b: any) => [b[0] + b[1] * .16, b[0] + b[2] * .16, b[3], b[4]]);
  series.push({ type: "custom", name: "A significance", xAxisIndex: A, yAxisIndex: A, renderItem: bracketRender(brA, 7, 17, 1.8, 5), encode: { x: [0, 1], y: 2 }, data: brA.map((r) => r.slice(0, 3)), silent: true });
  measures.forEach((m, i) => gfx.push(T(m, measureLabelX[i], 548, 26)));
  gfx.push(T("log(values)", 22, 276, 23, { rot: Math.PI / 2 }));
  gfx.push(T("A", 23, 24, 45), T("B", 37, 598, 43), T("C", 941, 642, 47), T("D", 23, 1431, 47), T("E", 726, 1428, 47), T("F", 1175, 1428, 47));
  const legY = [149, 191, 235, 274, 311];
  const legCol = ["#F4AFA8", "#8B1A1A", "#1F55A5", "#0E9F78", "#93C83C"];
  groupNames.forEach((n, i) => {
    gfx.push(R(1730, legY[i] - 10.5, 21, 21, legCol[i]));
    gfx.push(T(n, i === 2 ? 1756 : 1758, legY[i] - 2, 33, { align: "left" }));
  });

  // ---- B
  const B = add({ left: 174.5, top: 644.6, width: 701.2, height: 575.4 },
    { min: .4, max: 3.6, axisLine: { show: false, onZero: false }, axisTick: { show: false, customValues: [1, 2, 3] }, axisLabel: { show: false }, splitLine: { show: true, lineStyle: { color: "#ECECEC", width: 2 } } },
    { min: -146.7, max: 3027, axisLine: { show: false, onZero: false }, axisTick: { show: false, customValues: [0, 500, 1000, 1500, 2000, 2500, 3000] }, axisLabel: { show: false }, splitLine: { show: true, lineStyle: { color: "#ECECEC", width: 2 } } });
  [monocyteCounts, neutrophilCounts, macrophageCounts, plateletCounts].forEach((vals, i) => {
    series.push({
      type: "bar", name: cellNames[i], xAxisIndex: B, yAxisIndex: B, barWidth: 49.35, barGap: 0, data: vals.map((v, k) => [k + 1, v]),
      itemStyle: { color: cellColors[i], borderColor: "#000", borderWidth: 2 }, silent: true,
      label: { show: true, position: "top", distance: 5, fontSize: 20, fontFamily: FONT, color: "#000", formatter: (p: any) => String(p.value[1]) },
    });
  });
  assays.forEach((a, i) => gfx.push(T(a, assayLabelX[i], 1240, 30)));
  gfx.push(T("3000", 167, 647, 27, { align: "right" }), T("2000", 167, 829, 27, { align: "right" }), T("1000", 167, 1010, 27, { align: "right" }), T("0", 138, 1190, 27));
  gfx.push(T("Different features", 27.5, 934, 43, { rot: Math.PI / 2 }), T("Obese vs Post surgery", 76.5, 934, 43, { rot: Math.PI / 2 }));
  const bLeg = [["Platelets", 8, 56, "#F5E124"], ["Neutrophils", 211, 258, "#35B779"], ["Monocytes", 459, 505, "#31688E"], ["Macrophages", 690, 739, "#431A52"]];
  bLeg.forEach((l: any) => {
    gfx.push(R(l[1] + 1.5, 1297.5, 36, 36, l[3], "#000", 3));
    gfx.push(T(l[0], l[2], 1319, 36, { align: "left" }));
  });

  // ---- C
  const C = add({ left: 1094.7, top: 657.8, width: 793.6, height: 633.6 },
    { min: -6.59, max: 6.6, axisLine: { show: false, onZero: false }, axisTick: { show: false, customValues: [-6, -4.5, -3, -1.5, 0, 1.5, 3, 4.5, 6] },
      axisLabel: { show: false },
      splitLine: { show: true, lineStyle: { color: "#ECECEC", width: 2 } } },
    { min: -1.36, max: 27.33, axisLine: { show: false, onZero: false }, axisTick: { show: false, customValues: [0, 5, 10, 15, 20, 25] },
      axisLabel: { customValues: [0, 10, 20], fontSize: 40, fontFamily: FONT, color: "#4D4D4D", margin: 5, formatter: plain },
      splitLine: { show: true, lineStyle: { color: "#ECECEC", width: 2 } } });
  volcTickLabels.forEach((s, i) => gfx.push(T(s, volcTickLabelX[i], 1311, 40, { fill: "#4D4D4D" })));
  const unrow = (rows: number[][]) => rows.flatMap((r) => r.slice(1).map((x) => [x, r[0]]));
  series.push({ type: "scatter", name: "Up", xAxisIndex: C, yAxisIndex: C, symbolSize: 5.5, data: volcRed, itemStyle: { color: "#D98A8F", opacity: .45 }, silent: true });
  series.push({ type: "scatter", name: "Down", xAxisIndex: C, yAxisIndex: C, symbolSize: 6.5, data: [...volcBlue, ...unrow(blueRows)], itemStyle: { color: "#5F73B8", opacity: .42 }, silent: true });
  series.push({ type: "scatter", name: "NS", xAxisIndex: C, yAxisIndex: C, symbolSize: 8, data: [...volcBlack, ...unrow(blackRows)], itemStyle: { color: "#0A0A0A", opacity: .72 }, silent: true,
    markLine: { silent: true, symbol: "none", label: { show: false }, lineStyle: { color: "#000", type: [3, 7], width: 2 }, data: [{ yAxis: 3 }] } });
  series.push({ type: "scatter", name: "Labelled genes", xAxisIndex: C, yAxisIndex: C, symbolSize: 6, data: volcGenes.map((g) => g.pt), itemStyle: { color: "#2E4A9E" }, silent: true });
  series.push({
    type: "custom", name: "Gene leaders", xAxisIndex: C, yAxisIndex: C, encode: { x: [0, 2], y: [1, 3] }, data: volcGenes.map((g) => g.line), silent: true,
    renderItem: (_p: any, api: any) => {
      const a = api.coord([api.value(0), api.value(1)]), b = api.coord([api.value(2), api.value(3)]);
      return { type: "line", shape: { x1: a[0], y1: a[1], x2: b[0], y2: b[1] }, style: { stroke: "#000", lineWidth: 1.6, fill: "none" } };
    },
  });
  volcGenes.forEach((g) => gfx.push(T(g.name, g.lx, g.ly, 39)));
  gfx.push(T("−log10(FDR)", 1021, 1032, 42, { rot: Math.PI / 2 }), T("log2 (Fold Change)", 1492, 1354, 44));

  // ---- D
  facets.forEach((f, idx) => {
    const col0 = idx % 3 === 0;
    const i = add({ left: f.left, top: f.top, width: 200, height: 450, show: true, borderColor: "#7F7F7F", borderWidth: 2, backgroundColor: "transparent" },
      { min: .4, max: 2.6, axisLine: { show: true, onZero: true, lineStyle: { color: "#555", width: 1.5 } }, axisTick: { show: false },
        axisLabel: { customValues: [1, 2], fontSize: 16.5, fontFamily: FONT, color: "#555", margin: -18, formatter: (v: number) => (v === 1 ? "Obese" : "Post surgery") } },
      { min: -.68, max: 14.46, axisLine: { show: false, onZero: false }, axisTick: { show: false },
        axisLabel: { show: col0, customValues: [0, 5, 10], fontSize: 24, fontFamily: FONT, color: "#4D4D4D", margin: 8, formatter: plain } });
    facetOrderColors.forEach((c, k) => {
      series.push({ type: "bar", name: f.name + " " + k, xAxisIndex: i, yAxisIndex: i, barWidth: 20.6, barGap: 0, data: [[1, f.obese[k]], [2, f.post[k]]], itemStyle: { color: c, borderColor: "#7F7F7F", borderWidth: 1.5 }, silent: true });
    });
    series.push({ type: "custom", name: f.name + " sig", xAxisIndex: i, yAxisIndex: i, renderItem: bracketRender(f.br, 6, 30, 1.6, 5), encode: { x: [0, 1], y: 2 }, data: f.br.map((r) => r.slice(0, 3)), silent: true });
    gfx.push(T(f.name, f.tx, f.ty, 26.5, { fill: "#222" }));
  });
  gfx.push(T("log(TPM+1)", 13, 1665, 21.5, { rot: Math.PI / 2 }), T("log(TPM+1)", 13, 2130, 21.5, { rot: Math.PI / 2 }));

  // ---- E, F
  pairPanels.forEach((p, n) => {
    const i = add({ left: p.left, top: p.top, width: p.w, height: p.h },
      { min: .4, max: 2.6, axisLine: blackLine, axisTick: { length: 3, customValues: [1, 2], lineStyle: { color: "#000", width: 1 } }, axisLabel: { show: false } },
      { min: p.ymin, max: p.ymax, axisLine: blackLine, axisTick: { length: 3, customValues: p.ticks, lineStyle: { color: "#000", width: 1 } },
        axisLabel: { customValues: p.labels, fontSize: 27, fontFamily: FONT, color: "#000", margin: 5, formatter: plain } });
    series.push({ type: "custom", name: "Obese box " + n, xAxisIndex: i, yAxisIndex: i, renderItem: boxRender(OBESE, 2, 0), encode: { x: 0, y: [1, 2, 3, 4, 5] }, data: [[1, ...p.bo, .5]], silent: true });
    series.push({ type: "custom", name: "Post box " + n, xAxisIndex: i, yAxisIndex: i, renderItem: boxRender(POST, 2, 0), encode: { x: 0, y: [1, 2, 3, 4, 5] }, data: [[2, ...p.bp, .5]], silent: true });
    series.push({
      type: "custom", name: "Pairs " + n, xAxisIndex: i, yAxisIndex: i, encode: { y: [0, 1] }, data: p.o.map((v, k) => [v, p.p[k]]), silent: true,
      renderItem: (_q: any, api: any) => {
        const a = api.coord([1, api.value(0)]), b = api.coord([2, api.value(1)]);
        return { type: "line", shape: { x1: a[0], y1: a[1], x2: b[0], y2: b[1] }, style: { stroke: "#BDBDBD", lineWidth: 2, fill: "none" } };
      },
    });
    series.push({ type: "scatter", name: "Obese pts " + n, xAxisIndex: i, yAxisIndex: i, symbolSize: 4, data: p.o.map((v) => [1, v]), itemStyle: { color: "#0E9F78" }, silent: true });
    series.push({ type: "scatter", name: "Post pts " + n, xAxisIndex: i, yAxisIndex: i, symbolSize: 4, data: p.p.map((v) => [2, v]), itemStyle: { color: POST }, silent: true });
  });
  gfx.push(T("Relative Fluorescence Unit (RFU)", 752, 1655, 20, { rot: Math.PI / 2 }));
  gfx.push(T("HEPES", 989.6, 1495, 33), T("*", 989.6, 1530, 30));
  gfx.push(T("LBP/LPS", 1416, 1471, 34), T("*", 1416, 1509, 30));
  gfx.push(T("PAM3", 1786, 1470, 34, { sx: .87 }), T("**", 1786, 1509, 30));
  gfx.push(T("PAF", 1404, 1850, 34), T("**", 1402, 1883, 30));
  gfx.push(T("fMLP", 1774, 1847, 34), T("*", 1772, 1885, 30));
  gfx.push({ type: "circle", silent: true, shape: { cx: 1369, cy: 2266, r: 12.5 }, style: { fill: "#0E9F78" } });
  gfx.push({ type: "circle", silent: true, shape: { cx: 1592, cy: 2266, r: 12.5 }, style: { fill: "#8CC63F" } });
  gfx.push(T("Obese", 1396, 2262, 39, { align: "left" }), T("Post surgery", 1617, 2262, 39, { align: "left" }));

  return { animation: false, backgroundColor: "#fff", grid, xAxis, yAxis, series, graphic: { elements: gfx } };
}

export default function App() {
  const ref = useRef<HTMLDivElement>(null);
  useEffect(() => {
    const chart = echarts.init(ref.current, null, { renderer: "svg" });
    chart.setOption(buildOption());
    return () => chart.dispose();
  }, []);
  return <div ref={ref} style={{ position: "absolute", left: 0, top: 0, width: 1961, height: 2332 }} />;
}
